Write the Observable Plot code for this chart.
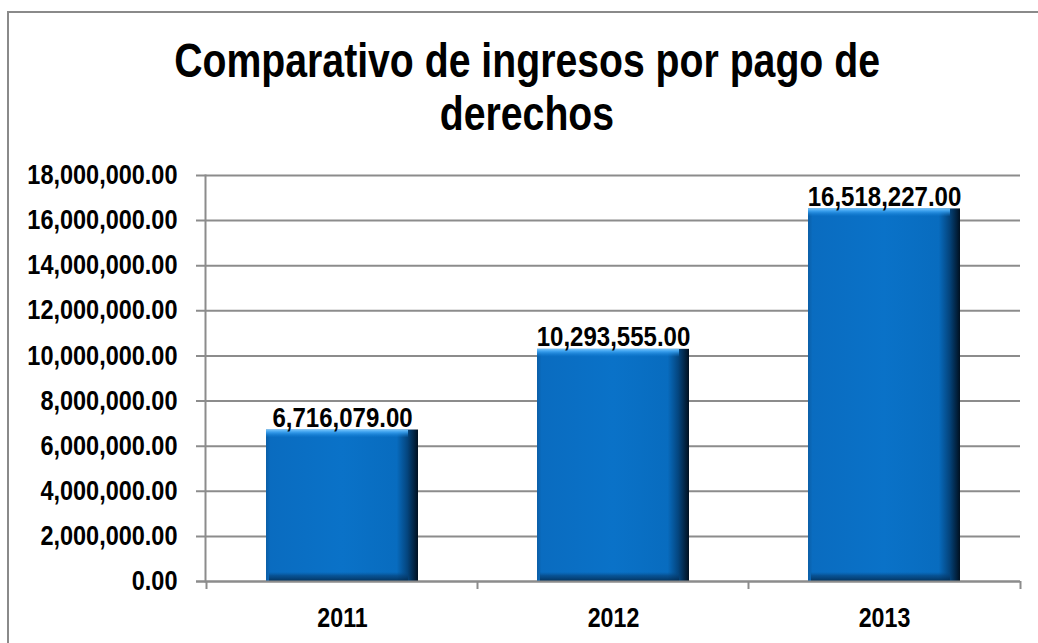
<!DOCTYPE html>
<html>
<head>
<meta charset="utf-8">
<script src="https://cdn.jsdelivr.net/npm/d3@7"></script>
<script src="https://cdn.jsdelivr.net/npm/@observablehq/plot@0.6"></script>
<style>
  html, body { margin: 0; padding: 0; background: #fff; overflow: hidden; width: 1038px; height: 643px; }
  #frame { position: absolute; left: 7px; top: 11px; width: 1100px; height: 700px; border: 2px solid #8a8a8a; box-sizing: border-box; pointer-events: none; }
  #wrap { position: relative; width: 1038px; }
  #title { height: 160px; box-sizing: border-box; padding-top: 34px; padding-left: 16px; text-align: center; font-family: "Liberation Sans", Arial, sans-serif; font-weight: bold; font-size: 49px; line-height: 53px; color: #000; }
  #title span { display: inline-block; transform: scaleX(0.80); transform-origin: 50% 50%; white-space: nowrap; }
  #chart svg { display: block; }
</style>
</head>
<body>
<div id="frame"></div>
<div id="wrap">
  <div id="title"><span>Comparativo de ingresos por pago de</span><br><span>derechos</span></div>
  <div id="chart"></div>
</div>
<script>
const titleLines = ["Comparativo de ingresos por pago de", "derechos"];
const years = ["2011", "2012", "2013"];
const values = [6716079, 10293555, 16518227];
const yTicks = [0, 2000000, 4000000, 6000000, 8000000, 10000000, 12000000, 14000000, 16000000, 18000000];

const data = years.map((year, i) => ({year, value: values[i]}));
const fmt = d3.format(",.2f");
const grid = "#8c8c8c";

const plot = Plot.plot({
  width: 1038,
  height: 483,
  marginTop: 15,
  marginBottom: 62,
  marginLeft: 205,
  marginRight: 18,
  style: {fontFamily: "'Liberation Sans', Arial, sans-serif", background: "transparent", overflow: "visible", color: "#000"},
  x: {domain: years, paddingInner: 0.44, paddingOuter: 0.22, label: null},
  y: {domain: [0, 18000000], label: null},
  marks: [
    Plot.ruleY(yTicks, {y: d => d, stroke: grid, strokeWidth: 2, insetLeft: -9}),
    // bar body
    Plot.barY(data, {x: "year", y: "value", fill: "url(#barH)"}),
    // top bevel highlight
    Plot.barY(data, {x: "year", y1: "value", y2: "value", insetBottom: -8, insetRight: 10, fill: "url(#barTop)"}),
    // bottom bevel shadow
    Plot.barY(data, {x: "year", y1: 0, y2: 0, insetTop: -9, insetRight: 10, insetLeft: 3, fill: "url(#barBot)"}),
    Plot.ruleY([0], {stroke: grid, strokeWidth: 2, insetLeft: -9}),
    Plot.frame({anchor: "left", stroke: grid, strokeWidth: 2}),
    Plot.ruleX(years, {x: d => d, y1: 0, y2: 0, dx: -136, insetBottom: -8, stroke: grid, strokeWidth: 2}),
    Plot.ruleX(years.slice(-1), {x: d => d, y1: 0, y2: 0, dx: 136, insetBottom: -8, stroke: grid, strokeWidth: 2}),
    Plot.axisY({ticks: yTicks, tickFormat: fmt, tickSize: 0, tickPadding: 28, fontSize: 27, fontWeight: "bold", label: null}),
    Plot.axisX({tickSize: 0, tickPadding: 26, fontSize: 27, fontWeight: "bold", label: null}),
    Plot.text(data, {x: "year", y: "value", text: d => fmt(d.value), dy: -3, lineAnchor: "bottom", fontSize: 27, fontWeight: "bold", fill: "#000"})
  ]
});

// gradients for the bevelled bars
const defs = d3.select(plot).insert("defs", ":first-child");
const gh = defs.append("linearGradient").attr("id", "barH").attr("x1", 0).attr("x2", 1).attr("y1", 0).attr("y2", 0);
[[0, "#0b5ea6"], [0.03, "#0a6cc0"], [0.5, "#0a72c8"], [0.86, "#086cbf"], [0.93, "#04457e"], [1, "#001020"]]
  .forEach(([o, c]) => gh.append("stop").attr("offset", o).attr("stop-color", c));
const gt = defs.append("linearGradient").attr("id", "barTop").attr("x1", 0).attr("x2", 0).attr("y1", 0).attr("y2", 1);
[[0, "#7ccaff", 0.95], [0.35, "#3ea4f2", 0.85], [1, "#1582da", 0]]
  .forEach(([o, c, a]) => gt.append("stop").attr("offset", o).attr("stop-color", c).attr("stop-opacity", a));
const gb = defs.append("linearGradient").attr("id", "barBot").attr("x1", 0).attr("x2", 0).attr("y1", 0).attr("y2", 1);
[[0, "#064a86", 0], [0.4, "#063f74", 0.6], [1, "#02294d", 0.85]]
  .forEach(([o, c, a]) => gb.append("stop").attr("offset", o).attr("stop-color", c).attr("stop-opacity", a));

// condense bold text horizontally to match the narrow look
function condense(sel, sx) {
  plot.querySelectorAll(sel).forEach(t => {
    const tr = t.getAttribute("transform") || "";
    let extra = "";
    const xa = t.getAttribute("x");
    if (xa && !/em$/.test(xa)) { extra += ` translate(${parseFloat(xa)},0)`; t.removeAttribute("x"); }
    const ya = t.getAttribute("y");
    if (ya && !/em$/.test(ya)) { extra += ` translate(0,${parseFloat(ya)})`; t.removeAttribute("y"); }
    t.setAttribute("transform", `${tr}${extra} scale(${sx},1)`);
  });
}
condense('g[aria-label="y-axis tick label"] text', 0.87);
condense('g[aria-label="x-axis tick label"] text', 0.86);
condense('g[aria-label="text"] text', 0.89);

document.getElementById("chart").appendChild(plot);
</script>
</body>
</html>
